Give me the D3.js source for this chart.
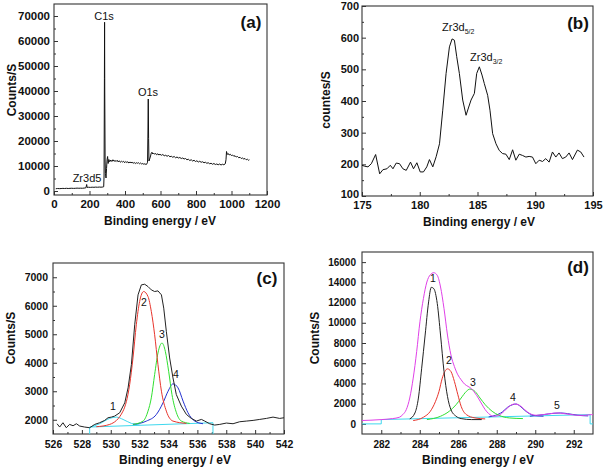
<!DOCTYPE html>
<html>
<head>
<meta charset="utf-8">
<script src="https://cdn.jsdelivr.net/npm/d3@7"></script>
<style>
body { margin: 0; background: #fff; }
text { font-family: "Liberation Sans", Arial, sans-serif; fill: #111; }
</style>
</head>
<body>
<svg id="fig" width="605" height="467"></svg>
<script>
// (a) survey spectrum  [binding energy, counts]
var surveyData = [[10,900],[20,1000],[30,950],[40,980],[50,1050],[60,1000],[70,1080],[80,1000],[90,1060],[100,1100],
  [110,1040],[120,1080],[130,1150],[140,1100],[150,1130],[160,1100],[170,1180],[178,1200],[181,1600],[184,2600],
  [187,1400],[195,1500],[205,1450],[215,1520],[225,1480],[235,1560],[245,1500],[255,1580],[265,1520],[275,1600],
  [280,1700],[282,6000],[284,45000],[285,67500],[286,40000],[288,12000],[290,7000],[293,5200],[296,9000],[299,12500],
  [302,13800],[305,11000],[309,12600],[314,11700],[320,12400],[326,11800],[332,12500],[338,11900],[344,12200],[350,11800],
  [356,12300],[362,11600],[368,12100],[374,11500],[380,11900],[386,11600],[392,11900],[398,11300],[404,11800],[410,11400],
  [416,11700],[422,11200],[428,11600],[434,11300],[440,11500],[446,11100],[452,11400],[458,11000],[464,11300],[470,11100],
  [476,11300],[482,10900],[488,11200],[494,10800],[500,11000],[506,10700],[512,10900],[518,10600],[524,10900],[527,11500],
  [529,22000],[531,36800],[533,21000],[535,12000],[539,12800],[544,14000],[548,15200],[552,15500],[556,14800],[561,15200],
  [567,14700],[573,15000],[579,14500],[585,14900],[591,14400],[597,14700],[605,14300],[613,14600],[621,14100],[629,14300],
  [637,13900],[645,14200],[653,13700],[661,13900],[669,13500],[677,13800],[685,13300],[693,13600],[701,13200],[709,13400],
  [717,13000],[725,13200],[733,12800],[741,13000],[749,12500],[757,12700],[765,12200],[773,12500],[781,12000],[789,12300],
  [797,11800],[805,12100],[813,11600],[821,11900],[829,11500],[837,11700],[845,11300],[853,11500],[861,11100],[869,11300],
  [877,10900],[885,11100],[893,10700],[901,11000],[909,10600],[917,10800],[925,10500],[933,10800],[941,10400],[949,10700],
  [957,10500],[965,10900],[969,12500],[972,15800],[976,14600],[981,15000],[987,14400],[993,14700],[999,14200],[1006,14400],
  [1013,13900],[1020,14100],[1027,13600],[1034,13800],[1041,13300],[1048,13500],[1055,13000],[1062,13200],[1069,12800],[1076,13000],
  [1083,12500],[1090,12700],[1096,12300],[1101,12500]];
var surveyLabels = [["C1s",104,20],["O1s",148,96],["Zr3d5",87,182]];

// (b) Zr 3d region
var zrData = [[175.00,197],[175.23,194],[175.52,192],[175.81,202],[176.18,231],[176.53,170],[176.81,183],[177.16,186],
  [177.45,197],[177.68,186],[177.96,204],[178.25,202],[178.54,186],[178.83,181],[179.20,207],[179.46,186],[179.75,205],
  [180.04,176],[180.32,176],[180.61,192],[180.84,215],[181.13,192],[181.42,224],[181.71,265],[181.99,371],[182.28,487],
  [182.57,571],[182.80,596],[183.00,592],[183.20,540],[183.43,487],[183.72,403],[184.01,355],[184.24,381],[184.44,403],
  [184.73,424],[184.93,487],[185.16,508],[185.39,482],[185.59,455],[185.88,418],[186.08,371],[186.31,297],[186.60,265],
  [186.88,244],[187.17,234],[187.46,232],[187.75,215],[188.04,246],[188.32,213],[188.61,232],[188.90,228],[189.19,223],
  [189.47,225],[189.76,223],[190.05,202],[190.34,213],[190.63,209],[190.91,218],[191.20,207],[191.49,239],[191.78,223],
  [192.06,236],[192.35,218],[192.64,223],[192.93,236],[193.22,215],[193.65,245],[193.94,239],[194.22,223]];

// (c) O 1s region: measured curve, fitted components, background
var o1sData = [[526.28,1860],[526.46,1744],[526.69,1895],[526.92,1720],[527.15,1837],[527.39,1790],[527.62,1860],
  [527.85,1779],[528.19,1744],[528.54,1720],[528.89,1837],[529.23,1895],[529.58,1977],[529.81,2070],[530.04,2093],
  [530.27,2128],[530.62,2245],[530.97,2594],[531.20,3119],[531.43,3935],[531.66,5333],[531.89,6382],[532.12,6732],
  [532.35,6755],[532.58,6674],[532.81,6557],[533.04,6499],[533.27,6522],[533.51,6382],[533.67,5916],[533.85,5100],
  [534.08,4168],[534.31,3469],[534.54,2886],[534.89,2478],[535.24,2186],[535.58,2047],[535.93,1953],[536.28,2012],
  [536.51,1953],[536.85,1860],[537.20,1814],[537.55,1837],[538.01,1884],[538.47,1860],[538.93,1930],[539.39,1953],
  [539.86,1977],[540.32,2012],[540.78,2047],[541.24,2093],[541.70,2047],[542.00,2070]];
var o1sPeak1 = [[528.59,1744],[529.23,1860],[529.93,2047],[530.39,2093],[530.85,2012],[531.43,1872],[532.00,1814]];
var o1sPeak2 = [[529.00,1755],[529.93,1837],[530.85,2303],[531.31,3235],[531.54,4168],[531.77,5333],[532.00,6149],
  [532.28,6499],[532.58,6324],[532.81,5800],[533.04,4984],[533.27,3935],[533.51,3002],[533.85,2303],[534.31,1953],[535.24,1872]];
var o1sPeak3 = [[531.54,1837],[532.24,1953],[532.58,2303],[532.81,2769],[533.04,3585],[533.27,4343],[533.55,4692],
  [533.78,4401],[534.01,3702],[534.24,2886],[534.55,2245],[534.89,1953],[535.47,1872]];
var o1sPeak4 = [[531.54,1837],[532.47,1953],[533.16,2186],[533.62,2594],[533.97,3002],[534.31,3259],[534.66,3119],
  [535.01,2653],[535.35,2245],[535.82,1953],[536.39,1860]];
var o1sBase = [[528.54,1500],[528.54,1744],[537.08,1895],[537.08,1500]];
var o1sLabels = [["1",113,410],["2",144,306],["3",162,338],["4",176,378]];

// (d) C 1s region: envelope, fitted components, background
var c1sData = [[280.93,328],[282.00,426],[282.59,525],[282.94,656],[283.12,918],[283.30,1410],[283.48,2557],[283.66,4525],
  [283.84,7148],[284.01,10098],[284.19,12393],[284.37,14033],[284.55,14754],[284.73,14951],[284.91,14689],[285.08,13541],
  [285.26,11410],[285.44,8787],[285.62,6820],[285.80,5672],[285.98,4852],[286.15,4361],[286.33,3934],[286.51,3705],
  [286.69,3475],[286.87,3049],[287.04,2557],[287.22,1967],[287.40,1410],[287.58,1016],[287.85,754],[288.11,852],
  [288.38,1246],[288.65,1738],[288.92,1967],[289.18,1836],[289.45,1410],[289.72,1016],[290.07,852],[290.43,918],
  [290.79,1016],[291.14,1082],[291.50,1016],[291.86,918],[292.21,852],[292.57,852],[292.93,918],[293.19,852]];
var c1sPeak1 = [[283.48,492],[283.75,1082],[283.93,2557],[284.10,5508],[284.28,8787],[284.46,12066],[284.60,13508],
  [284.73,13377],[284.91,11902],[285.08,8787],[285.26,5180],[285.44,2721],[285.62,1410],[285.89,754],[286.15,525],
  [286.69,426],[287.22,426]];
var c1sPeak2 = [[283.66,328],[284.19,656],[284.55,1246],[284.82,2230],[285.00,3213],[285.17,4525],[285.44,5443],
  [285.62,5181],[285.80,4197],[285.98,2885],[286.15,1738],[286.42,918],[286.87,590],[287.40,492]];
var c1sPeak3 = [[284.37,426],[285.08,754],[285.53,1246],[285.89,1902],[286.15,2558],[286.42,3213],[286.60,3443],
  [286.87,3213],[287.13,2558],[287.40,1902],[287.76,1246],[288.11,853],[288.65,590],[289.36,525]];
var c1sPeak4 = [[287.58,689],[287.94,853],[288.29,1180],[288.56,1640],[288.83,1902],[289.01,1967],[289.18,1803],
  [289.45,1344],[289.72,984],[290.07,787],[290.43,754]];
var c1sPeak5 = [[289.72,754],[290.43,918],[290.97,1049],[291.32,1082],[291.68,1016],[292.21,853],[292.75,787]];
var c1sBase = [[280.93,0],[282.00,0],[282.00,426],[292.85,918],[292.85,0],[293.2,0]];
var c1sLabels = [["1",433,282],["2",449,364],["3",473,386],["4",513,401],["5",557,409]];

var svg = d3.select("#fig");

function drawPanel(p) {
  var x = d3.scaleLinear().domain(p.xDomain).range([p.left, p.right]);
  var y = d3.scaleLinear().domain(p.yDomain).range([p.bottom, p.top]);
  var g = svg.append("g");

  g.append("clipPath").attr("id", "clip-" + p.id)
    .append("rect")
      .attr("x", p.left).attr("y", p.top)
      .attr("width", p.right - p.left).attr("height", p.bottom - p.top);

  // minor ticks first, then major with labels (ticks point inward)
  g.append("g")
      .attr("transform", "translate(0," + p.bottom + ")")
      .call(d3.axisBottom(x).tickValues(p.xMinor).tickSize(-2).tickFormat(""))
      .call(function(a) { a.select(".domain").remove(); });
  g.append("g")
      .attr("transform", "translate(" + p.left + ",0)")
      .call(d3.axisLeft(y).tickValues(p.yMinor).tickSize(-2).tickFormat(""))
      .call(function(a) { a.select(".domain").remove(); });

  var xa = g.append("g")
      .attr("transform", "translate(0," + p.bottom + ")")
      .call(d3.axisBottom(x).tickValues(p.xTicks).tickSize(-4).tickPadding(p.xPad).tickFormat(d3.format("d")));
  var ya = g.append("g")
      .attr("transform", "translate(" + p.left + ",0)")
      .call(d3.axisLeft(y).tickValues(p.yTicks).tickSize(-4).tickPadding(p.yPad).tickFormat(d3.format("d")));
  [xa, ya].forEach(function(a) {
    a.select(".domain").remove();
    a.selectAll("text")
      .style("font-family", "'Liberation Sans', Arial, sans-serif")
      .style("font-size", p.tickFont + "px")
      .style("font-weight", "bold")
      .attr("fill", "#111");
  });
  // lowest y label sits a hair higher so it clears the x labels
  ya.selectAll(".tick text").filter(function(d) { return d === p.yTicks[0]; })
      .attr("dy", p.yLowDy || "0.32em");
  g.selectAll(".tick line").attr("stroke", "#333");

  g.append("rect")
      .attr("x", p.left).attr("y", p.top)
      .attr("width", p.right - p.left).attr("height", p.bottom - p.top)
      .attr("fill", "none").attr("stroke", "#333").attr("stroke-width", 1.1);

  var plot = g.append("g").attr("clip-path", "url(#clip-" + p.id + ")");
  p.series.forEach(function(s) {
    plot.append("path")
        .datum(s.data)
        .attr("fill", "none")
        .attr("stroke", s.color)
        .attr("stroke-width", s.width || 1)
        .attr("d", d3.line()
          .x(function(d) { return x(d[0]); })
          .y(function(d) { return y(d[1]); })
          .curve(s.smooth ? d3.curveMonotoneX : d3.curveLinear));
  });

  // axis titles
  g.append("text")
      .attr("x", p.xTitleX).attr("y", p.xTitleY)
      .attr("text-anchor", "middle")
      .style("font-size", "12px").style("font-weight", "bold")
      .text("Binding energy / eV");
  g.append("text")
      .attr("transform", "translate(" + p.yTitleX + "," + p.yTitleY + ")rotate(-90)")
      .attr("text-anchor", "middle")
      .style("font-size", "12px").style("font-weight", "bold")
      .text(p.yTitle);

  // panel letter
  g.append("text")
      .attr("x", p.tagX).attr("y", p.tagY)
      .attr("text-anchor", "middle")
      .style("font-size", "17px").style("font-weight", "bold")
      .text(p.tag);

  (p.labels || []).forEach(function(l) {
    g.append("text")
        .attr("x", l[1]).attr("y", l[2])
        .attr("text-anchor", "middle")
        .style("font-size", p.labelFont + "px")
        .text(l[0]);
  });
  return g;
}

drawPanel({
  id: "a", left: 54, right: 267, top: 4, bottom: 195,
  xDomain: [0, 1200], yDomain: [-1600, 74800],
  xTicks: d3.range(0, 1201, 200), xMinor: d3.range(100, 1200, 200),
  yTicks: d3.range(0, 70001, 10000), yMinor: d3.range(5000, 74000, 10000),
  tickFont: 11.5, xPad: 5, yPad: 4, labelFont: 11,
  xTitleX: 160, xTitleY: 225, yTitleX: 16, yTitleY: 90, yTitle: "Counts/S",
  tag: "(a)", tagX: 251, tagY: 28,
  series: [{ data: surveyData, color: "#111" }],
  labels: surveyLabels
});

var pb = drawPanel({
  id: "b", left: 362, right: 593, top: 6, bottom: 196,
  xDomain: [175, 195], yDomain: [100, 700],
  xTicks: d3.range(175, 196, 5), xMinor: d3.range(177.5, 195, 5),
  yTicks: d3.range(100, 701, 100), yMinor: d3.range(150, 700, 100),
  tickFont: 11, xPad: 5, yPad: 3, labelFont: 11, yLowDy: "0.1em",
  xTitleX: 479, xTitleY: 226, yTitleX: 330, yTitleY: 100, yTitle: "countes/S",
  tag: "(b)", tagX: 578, tagY: 29,
  series: [{ data: zrData, color: "#111" }],
  labels: []
});
[["5/2", 442, 31], ["3/2", 470, 61]].forEach(function(l) {
  var t = pb.append("text").attr("x", l[1]).attr("y", l[2]).style("font-size", "11px");
  t.append("tspan").text("Zr3d");
  t.append("tspan").attr("dy", 3).style("font-size", "7px").text(l[0]);
});

drawPanel({
  id: "c", left: 53, right: 284, top: 263, bottom: 434,
  xDomain: [526, 542], yDomain: [1500, 7500],
  xTicks: d3.range(526, 543, 2), xMinor: d3.range(527, 542, 2),
  yTicks: d3.range(2000, 7001, 1000), yMinor: d3.range(2500, 7500, 1000),
  tickFont: 10.5, xPad: 7, yPad: 5, labelFont: 10.5,
  xTitleX: 175, xTitleY: 464, yTitleX: 15, yTitleY: 338, yTitle: "Counts/S",
  tag: "(c)", tagX: 267, tagY: 284,
  series: [
    { data: o1sBase, color: "#3fd8ee" },
    { data: o1sPeak1, color: "#3fd8ee", smooth: true },
    { data: o1sPeak4, color: "#2230d0", smooth: true },
    { data: o1sPeak3, color: "#30e030", smooth: true },
    { data: o1sPeak2, color: "#e8342c", smooth: true },
    { data: o1sData, color: "#222" }
  ],
  labels: o1sLabels
});

drawPanel({
  id: "d", left: 362, right: 593, top: 252, bottom: 434,
  xDomain: [281, 293], yDomain: [-1000, 17000],
  xTicks: d3.range(282, 293, 2), xMinor: d3.range(283, 293, 2),
  yTicks: d3.range(0, 16001, 2000), yMinor: d3.range(1000, 17000, 2000),
  tickFont: 10, xPad: 7, yPad: 6, labelFont: 10.5,
  xTitleX: 478, xTitleY: 464, yTitleX: 319, yTitleY: 338, yTitle: "Counts/S",
  tag: "(d)", tagX: 578, tagY: 273,
  series: [
    { data: c1sBase, color: "#3fd8ee" },
    { data: c1sPeak5, color: "#3040d0", smooth: true },
    { data: c1sPeak4, color: "#3040d0", smooth: true },
    { data: c1sPeak3, color: "#30e030", smooth: true },
    { data: c1sPeak2, color: "#e8342c", smooth: true },
    { data: c1sPeak1, color: "#222", smooth: true },
    { data: c1sData, color: "#e040e8", smooth: true }
  ],
  labels: c1sLabels
});
</script>
</body>
</html>
